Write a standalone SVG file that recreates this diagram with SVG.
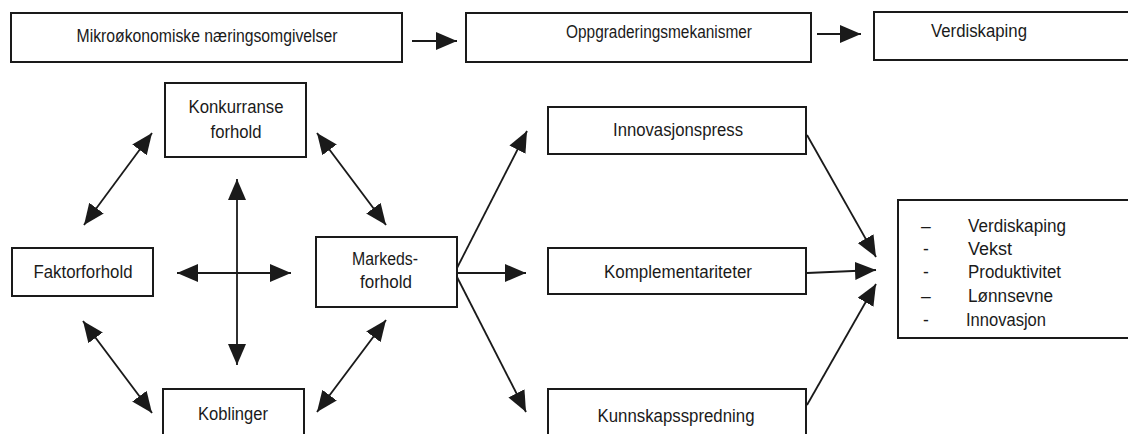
<svg xmlns="http://www.w3.org/2000/svg" width="1128" height="434" viewBox="0 0 1128 434">
  <style>
    .box { fill: #ffffff; stroke: #1a1a1a; stroke-width: 2; }
    .lbl { font-family: "Liberation Sans", Arial, sans-serif; font-size: 17.5px; fill: #1a1a1a; text-anchor: middle; }
    .lst { font-family: "Liberation Sans", Arial, sans-serif; font-size: 17.5px; fill: #1a1a1a; }
    .edge { fill: none; stroke: #1a1a1a; stroke-width: 1.8; }
  </style>
  <defs>
    <marker id="head" markerUnits="userSpaceOnUse" markerWidth="21" markerHeight="18" refX="21" refY="9" orient="auto-start-reverse">
      <path d="M0,0 L21,9 L0,18 Z" fill="#1a1a1a"/>
    </marker>
  </defs>
  <rect width="1128" height="434" fill="#ffffff"/>

  <!-- header row -->
  <g id="mikro">
    <rect class="box" x="11" y="13" width="391" height="49"/>
    <text class="lbl" x="207" y="42" textLength="261" lengthAdjust="spacingAndGlyphs">Mikroøkonomiske næringsomgivelser</text>
  </g>
  <g id="oppgradering">
    <rect class="box" x="466" y="13" width="345" height="49"/>
    <text class="lbl" x="659" y="38" textLength="186" lengthAdjust="spacingAndGlyphs">Oppgraderingsmekanismer</text>
  </g>
  <g id="verdiskaping">
    <rect class="box" x="874" y="12" width="262" height="48"/>
    <text class="lbl" x="979" y="37" textLength="96" lengthAdjust="spacingAndGlyphs">Verdiskaping</text>
  </g>

  <!-- microeconomic factors -->
  <g id="konkurranse">
    <rect class="box" x="165" y="83" width="141" height="74"/>
    <text class="lbl" x="236" y="113" textLength="95" lengthAdjust="spacingAndGlyphs">Konkurranse</text>
    <text class="lbl" x="236" y="138" textLength="51" lengthAdjust="spacingAndGlyphs">forhold</text>
  </g>
  <g id="faktor">
    <rect class="box" x="12" y="248" width="141" height="48"/>
    <text class="lbl" x="83" y="278" textLength="99" lengthAdjust="spacingAndGlyphs">Faktorforhold</text>
  </g>
  <g id="markeds">
    <rect class="box" x="316" y="237" width="141" height="70"/>
    <text class="lbl" x="385" y="265" textLength="66" lengthAdjust="spacingAndGlyphs">Markeds-</text>
    <text class="lbl" x="386" y="288" textLength="52" lengthAdjust="spacingAndGlyphs">forhold</text>
  </g>
  <g id="koblinger">
    <rect class="box" x="163" y="389" width="141" height="60"/>
    <text class="lbl" x="233" y="420" textLength="70" lengthAdjust="spacingAndGlyphs">Koblinger</text>
  </g>

  <!-- upgrading mechanisms -->
  <g id="innovasjonspress">
    <rect class="box" x="548" y="107" width="258" height="47"/>
    <text class="lbl" x="678" y="136" textLength="130" lengthAdjust="spacingAndGlyphs">Innovasjonspress</text>
  </g>
  <g id="komplementariteter">
    <rect class="box" x="548" y="248" width="258" height="46"/>
    <text class="lbl" x="678" y="278" textLength="148" lengthAdjust="spacingAndGlyphs">Komplementariteter</text>
  </g>
  <g id="kunnskapsspredning">
    <rect class="box" x="548" y="389" width="258" height="60"/>
    <text class="lbl" x="676" y="422" textLength="157" lengthAdjust="spacingAndGlyphs">Kunnskapsspredning</text>
  </g>

  <!-- outcomes -->
  <g id="resultat">
    <rect class="box" x="898" y="200" width="240" height="138"/>
    <g class="lst">
      <text x="921" y="232">–</text>
      <text x="968" y="232" textLength="98" lengthAdjust="spacingAndGlyphs">Verdiskaping</text>
      <text x="923" y="255">-</text>
      <text x="968" y="255" textLength="44" lengthAdjust="spacingAndGlyphs">Vekst</text>
      <text x="923" y="278">-</text>
      <text x="968" y="278" textLength="93" lengthAdjust="spacingAndGlyphs">Produktivitet</text>
      <text x="921" y="302">–</text>
      <text x="968" y="302" textLength="85" lengthAdjust="spacingAndGlyphs">Lønnsevne</text>
      <text x="923" y="326">-</text>
      <text x="966" y="326" textLength="80" lengthAdjust="spacingAndGlyphs">Innovasjon</text>
    </g>
  </g>

  <!-- connectors -->
  <g id="connectors" class="edge">
    <line x1="412" y1="41" x2="457" y2="41" marker-end="url(#head)"/>
    <line x1="817" y1="34" x2="861" y2="34" marker-end="url(#head)"/>

    <line x1="152" y1="133" x2="84" y2="225" marker-start="url(#head)" marker-end="url(#head)"/>
    <line x1="317" y1="133" x2="386" y2="225" marker-start="url(#head)" marker-end="url(#head)"/>
    <line x1="83" y1="321" x2="152" y2="413" marker-start="url(#head)" marker-end="url(#head)"/>
    <line x1="386" y1="320" x2="317" y2="412" marker-start="url(#head)" marker-end="url(#head)"/>
    <line x1="237" y1="179" x2="237" y2="365" marker-start="url(#head)" marker-end="url(#head)"/>
    <line x1="177" y1="273" x2="291" y2="273" marker-start="url(#head)" marker-end="url(#head)"/>

    <line x1="457" y1="268" x2="527" y2="131" marker-end="url(#head)"/>
    <line x1="457" y1="273" x2="526" y2="273" marker-end="url(#head)"/>
    <line x1="457" y1="277" x2="526" y2="412" marker-end="url(#head)"/>

    <line x1="807" y1="135" x2="876" y2="257" marker-end="url(#head)"/>
    <line x1="807" y1="273" x2="876" y2="270" marker-end="url(#head)"/>
    <line x1="807" y1="405" x2="876" y2="284" marker-end="url(#head)"/>
  </g>
</svg>
